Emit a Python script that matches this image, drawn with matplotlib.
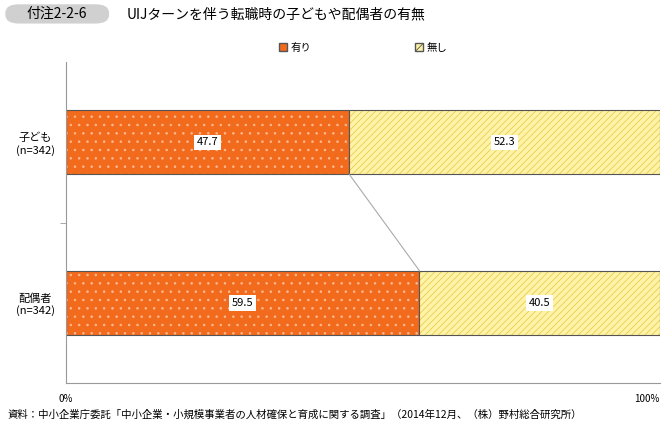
import matplotlib
matplotlib.use("Agg")
import matplotlib.pyplot as plt
from matplotlib.patches import FancyBboxPatch, Rectangle
plt.rcParams['font.family'] = ['Noto Sans CJK JP', 'DejaVu Sans']
plt.rcParams['hatch.linewidth'] = 0.6

categories = ["子ども\n(n=342)", "配偶者\n(n=342)"]
ari = [47.7, 59.5]
nashi = [52.3, 40.5]
series = ["有り", "無し"]
xticklabels = ["0%", "100%"]

fig = plt.figure(figsize=(6.69, 4.28), dpi=100)
ax = fig.add_axes([0.0987, 0.105, 0.8878, 0.75])
y = [0, 1]
h = 0.4
orange = "#f26a1b"; yellow = "#fff3a8"
ax.barh(y, ari, height=h, color=orange, linewidth=0)
ax.barh(y, ari, height=h, color="none", edgecolor="#ffb890", linewidth=0, hatch="..")
ax.barh(y, ari, height=h, color="none", edgecolor="#555555", linewidth=0.8)
ax.barh(y, nashi, left=ari, height=h, color=yellow, linewidth=0)
ax.barh(y, nashi, left=ari, height=h, color="none", edgecolor="#e8cc50", linewidth=0, hatch="/////")
ax.barh(y, nashi, left=ari, height=h, color="none", edgecolor="#555555", linewidth=0.8)
ax.plot([ari[0], ari[1]], [y[0] + h/2, y[1] - h/2], color="#aaaaaa", lw=0.8)
for i in range(2):
    ax.text(ari[i]/2, y[i], f"{ari[i]:.1f}", ha="center", va="center", fontsize=8,
            bbox=dict(facecolor="white", edgecolor="none", pad=2))
    ax.text(ari[i] + nashi[i]/2, y[i], f"{nashi[i]:.1f}", ha="center", va="center", fontsize=8,
            bbox=dict(facecolor="white", edgecolor="none", pad=2))
ax.set_xlim(0, 100)
ax.set_ylim(1.5, -0.5)
ax.set_yticks(y)
ax.set_yticklabels(categories, fontsize=8, ha="center")
ax.tick_params(axis='y', pad=22, length=0)
ax.set_yticks([0.5], minor=True)
ax.tick_params(axis='y', which='minor', length=4, color="#999999")
ax.set_xticks([0, 100])
ax.set_xticklabels(xticklabels, fontsize=7)
ax.get_xticklabels()[1].set_horizontalalignment("right")
ax.tick_params(axis='x', length=0, pad=8)
for s in ["top", "right"]:
    ax.spines[s].set_visible(False)
for s in ["left", "bottom"]:
    ax.spines[s].set_color("#999999")
    ax.spines[s].set_linewidth(0.8)

ax.legend(handles=[Rectangle((0,0),1,1, facecolor=orange, edgecolor="#555555"),
                   Rectangle((0,0),1,1, facecolor=yellow, edgecolor="#555555", hatch="////")],
          labels=series, loc="lower center", bbox_to_anchor=(0.5, 1.0), ncol=2, frameon=False,
          fontsize=7.5, handlelength=0.8, handleheight=0.8, columnspacing=10, handletextpad=0.3)

fig.patches.append(FancyBboxPatch((0.008, 0.945), 0.155, 0.045, boxstyle="round,pad=0,rounding_size=0.02",
                                  transform=fig.transFigure, facecolor="#d0d0d0", edgecolor="none"))
fig.text(0.085, 0.967, "付注2-2-6", ha="center", va="center", fontsize=10)
fig.text(0.19, 0.967, "UIJターンを伴う転職時の子どもや配偶者の有無", ha="left", va="center", fontsize=10)
fig.text(0.012, 0.03, "資料：中小企業庁委託「中小企業・小規模事業者の人材確保と育成に関する調査」（2014年12月、（株）野村総合研究所）",
         ha="left", va="center", fontsize=7.5)
fig.savefig("out.png", dpi=100)
